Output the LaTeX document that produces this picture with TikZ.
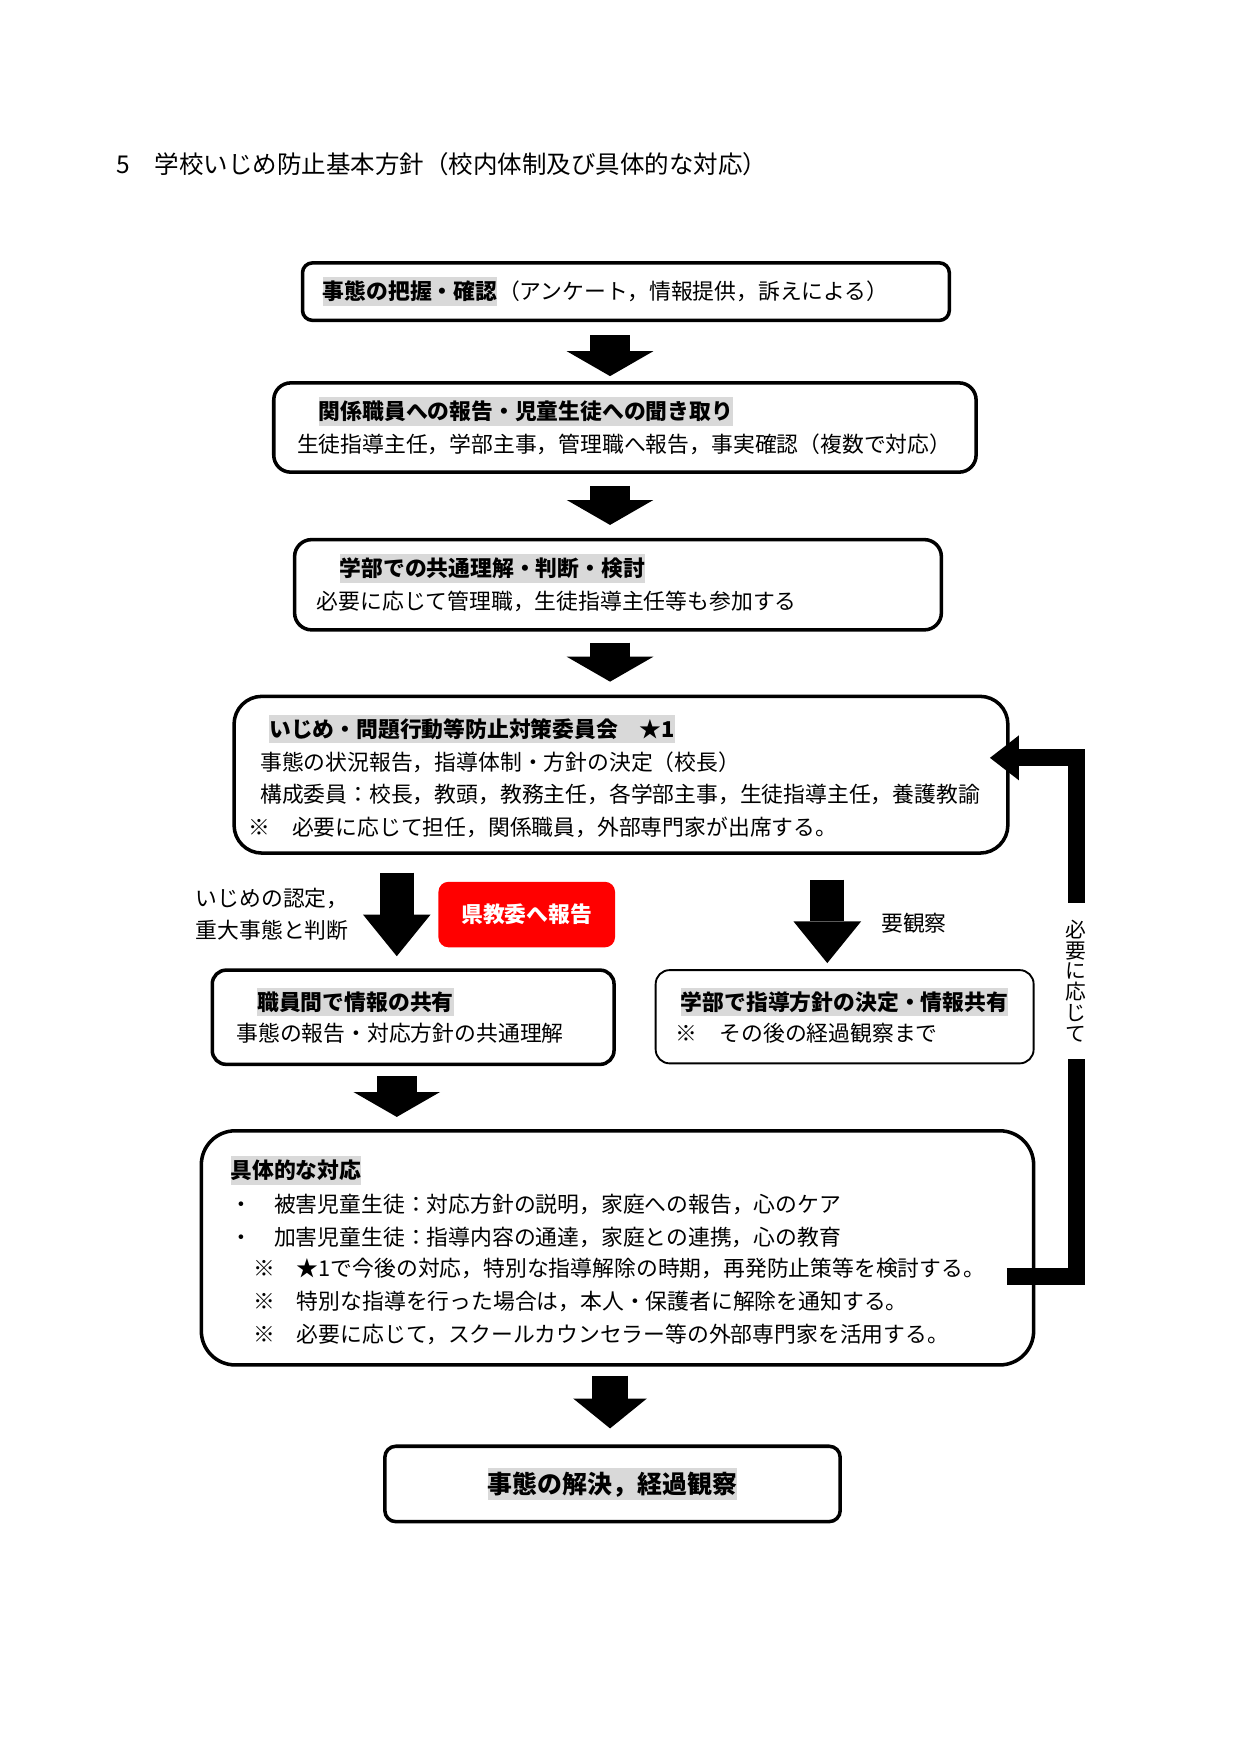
\documentclass[tikz,border=0pt]{standalone}
\usepackage{fontspec}
\setmainfont{Noto Sans CJK JP}
\usetikzlibrary{arrows.meta,positioning,fit}

\begin{document}
\begin{tikzpicture}
    [x=0.16922mm,y=-0.16922mm,
     every node/.style={inner sep=0pt,font=\fontsize{10.5pt}{13pt}\selectfont},
     txt/.style={anchor=west,text height=9.2pt,text depth=1.3pt},
     hd/.style={txt,fill=black!15,inner ysep=1.6pt,font=\fontsize{10.5pt}{13pt}\selectfont\bfseries},
     box/.style={draw,line width=1.7pt},
     thinbox/.style={draw,line width=0.9pt},
     repbox/.style={fill=red,rounded corners=4.8pt},
     reptxt/.style={text=white,text height=9.2pt,text depth=1.3pt,font=\fontsize{10.5pt}{13pt}\selectfont\bfseries},
     needlbl/.style={fill=white,align=center,minimum height=74.8pt,inner xsep=1pt,font=\fontsize{10pt}{10.1pt}\selectfont},
     downarr/.style={line width=19.2pt,-{Triangle[length=12pt,width=41.7pt,line width=0pt]}},
     bigarr/.style={line width=16.3pt,-{Triangle[length=20.1pt,width=32.6pt,line width=0pt]}},
     endarr/.style={line width=17.7pt,-{Triangle[length=14.4pt,width=35.5pt,line width=0pt]}},
     backarr/.style={line width=8.2pt,-{Triangle[length=13.9pt,width=21.6pt,line width=0pt]}}]
    \path[use as bounding box,fill=white] (0,0) rectangle (1241,1754);

  \begin{scope}[scale=0.992]
    \node[txt,font=\fontsize{11.8pt}{14pt}\selectfont] (title) at (117,167) {5　学校いじめ防止基本方針（校内体制及び具体的な対応）};

    % boxes
    \node[box,rounded corners=4.8pt,fit={(305,265) (957,323)}] (b1) {};
    \node[hd] (h1) at (325,294) {事態の把握・確認};
    \node[txt,right=0pt of h1] (t1) {（アンケート，情報提供，訴えによる）};

    \node[box,rounded corners=8.2pt,fit={(276,386) (984,476)}] (b2) {};
    \node[hd] (h2) at (321,415) {関係職員への報告・児童生徒への聞き取り};
    \node[txt] (t2) at (299,448) {生徒指導主任，学部主事，管理職へ報告，事実確認（複数で対応）};

    \node[box,rounded corners=8.2pt,fit={(297,544) (949,635)}] (b3) {};
    \node[hd] (h3) at (342,573) {学部での共通理解・判断・検討};
    \node[txt] (t3) at (319,606) {必要に応じて管理職，生徒指導主任等も参加する};

    \node[box,rounded corners=13.4pt,fit={(236,702) (1016,860)}] (b4) {};
    \node[hd] (h4) at (271,735) {いじめ・問題行動等防止対策委員会　★1};
    \node[txt] (t4a) at (262,768) {事態の状況報告，指導体制・方針の決定（校長）};
    \node[txt] (t4b) at (262,801) {構成委員：校長，教頭，教務主任，各学部主事，生徒指導主任，養護教諭};
    \node[txt] (t4c) at (250,834) {※　必要に応じて担任，関係職員，外部専門家が出席する。};

    \node[txt] (jd1) at (197,906) {いじめの認定，};
    \node[txt] (jd2) at (197,938) {重大事態と判断};
    \node[repbox,fit={(442,889) (620,955)}] (rep) {};
    \node[reptxt] (rept) at (rep) {県教委へ報告};
    \node[txt] (obs) at (888,931) {要観察};

    \node[box,rounded corners=6.7pt,fit={(214,978) (619,1073)}] (b5) {};
    \node[hd] (h5) at (259,1010) {職員間で情報の共有};
    \node[txt] (t5) at (238,1042) {事態の報告・対応方針の共通理解};

    \node[thinbox,rounded corners=6.7pt,fit={(661,978) (1042,1072)}] (b6) {};
    \node[hd] (h6) at (686,1010) {学部で指導方針の決定・情報共有};
    \node[txt] (t6) at (681,1042) {※　その後の経過観察まで};

    \node[box,rounded corners=16.3pt,fit={(203,1140) (1042,1376)}] (b7) {};
    \node[hd] (h7) at (232,1180) {具体的な対応};
    \node[txt] (t7a) at (232,1214) {・　被害児童生徒：対応方針の説明，家庭への報告，心のケア};
    \node[txt] (t7b) at (232,1247) {・　加害児童生徒：指導内容の通達，家庭との連携，心の教育};
    \node[txt] (t7c) at (255,1279) {※　★1で今後の対応，特別な指導解除の時期，再発防止策等を検討する。};
    \node[txt] (t7d) at (255,1312) {※　特別な指導を行った場合は，本人・保護者に解除を通知する。};
    \node[txt] (t7e) at (255,1345) {※　必要に応じて，スクールカウンセラー等の外部専門家を活用する。};

    \node[box,rounded corners=5.3pt,fit={(388,1458) (847,1534)}] (b8) {};
    \node[hd,anchor=center,font=\fontsize{12pt}{14pt}\selectfont\bfseries,text height=10.6pt,text depth=1.4pt] (h8) at (b8) {事態の解決，経過観察};

    % arrows
    \coordinate (mid) at (615,0);
    \coordinate (lft) at (400,0);
    \coordinate (rgt) at (834,0);
    \draw[downarr,shorten <=6.2pt,shorten >=2.4pt] (mid |- b1.south) -- (mid |- b2.north);
    \draw[downarr,shorten <=5.8pt,shorten >=6.2pt] (mid |- b2.south) -- (mid |- b3.north);
    \draw[downarr,shorten <=5.3pt,shorten >=6.2pt] (mid |- b3.south) -- (mid |- b4.north);
    \draw[bigarr,shorten <=8.6pt,shorten >=5.8pt] (lft |- b4.south) -- (lft |- b5.north);
    \draw[bigarr,shorten <=12pt,shorten >=2.9pt] (rgt |- b4.south) -- (rgt |- b6.north);
    \draw[downarr,shorten <=4.8pt,shorten >=5.8pt] (lft |- b5.south) -- (lft |- b7.north);
    \draw[endarr,shorten <=4.3pt,shorten >=7.7pt] (mid |- b7.south) -- (mid |- b8.north);

    % back to the committee
    \coordinate (fbs) at (1015,1287);
    \coordinate (fbe) at (998,764);
    \coordinate (fbx) at (1085,0);
    \draw[backarr] (fbs) -- (fbx |- fbs) -- (fbx |- fbe) -- (fbe);
    \node[needlbl] (need) at (1085,989) {必\\要\\に\\応\\じ\\て};
  \end{scope}
\end{tikzpicture}
\end{document}
